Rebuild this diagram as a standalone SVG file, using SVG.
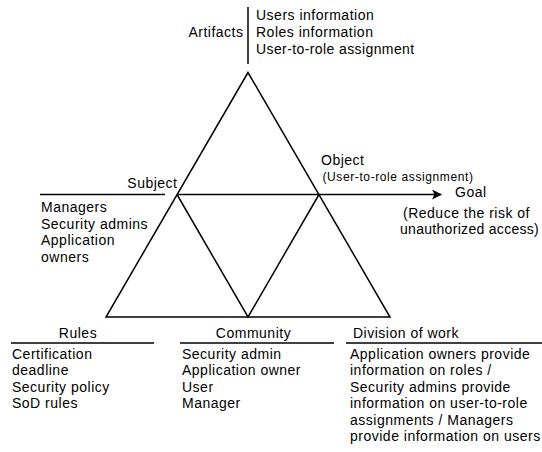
<svg xmlns="http://www.w3.org/2000/svg" width="542" height="452" viewBox="0 0 542 452">
<style>
  .t { font-family: "Liberation Sans", Arial, sans-serif; font-size: 14px; letter-spacing: 0.5px; fill: #000; }
  .s { font-family: "Liberation Sans", Arial, sans-serif; font-size: 12px; letter-spacing: 0.6px; fill: #000; }
  .ln { stroke: #000; stroke-width: 1.5; fill: none; }
  .mid { text-anchor: middle; }
  .end { text-anchor: end; }
</style>
<defs>
  <marker id="arr" viewBox="0 0 10 10" refX="9" refY="5" markerWidth="10" markerHeight="10" markerUnits="userSpaceOnUse" orient="auto">
    <path d="M0,0 L10,5 L0,10 L2.5,5 Z" fill="#000"/>
  </marker>
</defs>
<rect width="542" height="452" fill="#fff"/>

<g id="connectors">
  <path class="ln" d="M248,72.5 L106,317 L390,317 Z"/>
  <path class="ln" d="M177,194.5 L248,317 L319,194.5"/>
  <line class="ln" x1="177" y1="194.5" x2="441" y2="194.5" marker-end="url(#arr)"/>
  <line class="ln" x1="248" y1="7" x2="248" y2="64"/>
</g>

<g id="artifacts">
  <text class="t end" x="243.5" y="36.5">Artifacts</text>
  <text class="t" x="256" y="20">Users information</text>
  <text class="t" x="256" y="37">Roles information</text>
  <text class="t" x="256" y="54" style="letter-spacing:0.4px">User-to-role assignment</text>
</g>

<g id="subject">
  <text class="t end" x="177.5" y="188">Subject</text>
  <line class="ln" x1="40" y1="194.5" x2="165" y2="194.5"/>
  <text class="t" x="41" y="212">Managers</text>
  <text class="t" x="41" y="228.5">Security admins</text>
  <text class="t" x="41" y="245">Application</text>
  <text class="t" x="41" y="261.5">owners</text>
</g>

<g id="object">
  <text class="t" x="321" y="165">Object</text>
  <text class="s" x="322.5" y="181">(User-to-role assignment)</text>
</g>

<g id="goal">
  <text class="t" x="455" y="197">Goal</text>
  <text class="t" x="403" y="217.5">(Reduce the risk of</text>
  <text class="t" x="400" y="234" style="letter-spacing:0.3px">unauthorized access)</text>
</g>

<g id="rules">
  <text class="t mid" x="78" y="338">Rules</text>
  <line class="ln" x1="11" y1="343" x2="154" y2="343"/>
  <text class="t" x="12" y="358.5">Certification</text>
  <text class="t" x="12" y="375">deadline</text>
  <text class="t" x="12" y="391.5">Security policy</text>
  <text class="t" x="12" y="408">SoD rules</text>
</g>

<g id="community">
  <text class="t mid" x="253.5" y="338">Community</text>
  <line class="ln" x1="180" y1="343" x2="334" y2="343"/>
  <text class="t" x="182" y="358.5">Security admin</text>
  <text class="t" x="182" y="375">Application owner</text>
  <text class="t" x="182" y="391.5">User</text>
  <text class="t" x="182" y="408">Manager</text>
</g>

<g id="division">
  <text class="t" x="353" y="337.5">Division of work</text>
  <line class="ln" x1="346" y1="343" x2="542" y2="343"/>
  <text class="t" x="350" y="358.5">Application owners provide</text>
  <text class="t" x="350" y="375">information on roles /</text>
  <text class="t" x="350" y="391.5">Security admins provide</text>
  <text class="t" x="350" y="408">information on user-to-role</text>
  <text class="t" x="350" y="424.5">assignments / Managers</text>
  <text class="t" x="350" y="441">provide information on users</text>
</g>
</svg>
